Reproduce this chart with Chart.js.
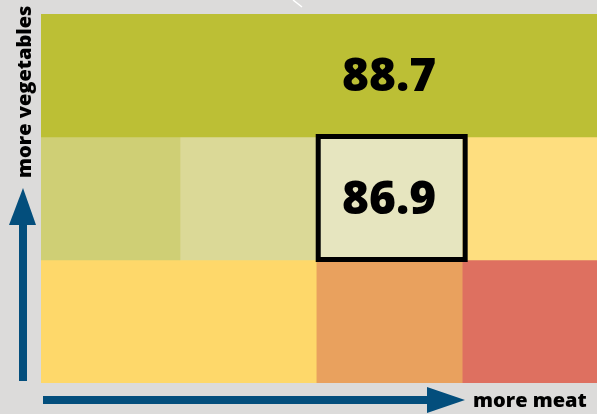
<!DOCTYPE html>
<html lang="en">
<head>
  <meta charset="UTF-8">
  <title>Vegetables vs meat</title>
  <script src="https://cdn.jsdelivr.net/npm/chart.js"></script>
  <style>
    body {
      margin: 0;
      background: #dcdbda;
    }
    .chart-container {
      position: relative;
      width: 597px;
      height: 414px;
    }
  </style>
</head>
<body>

<div class="chart-container">
  <canvas id="gridChart" width="597" height="414"></canvas>
</div>

<script>
  // Data
  const rowLabels = ['high', 'mid', 'low'];
  const cellRow = [0, 1, 1, 1, 1, 2, 2, 2];
  const cellStart = [0, 0, 1, 1.98, 3.03, 0, 1.98, 3.03];
  const cellEnd = [4, 1, 1.98, 3.03, 4, 1.98, 3.03, 4];
  const cellValue = [88.7, null, null, 86.9, null, null, null, null];
  const labelAt = [2.505, null, null, 2.505, null, null, null, null];
  const highlightCell = 3;

  // Colours
  const cellColors = ['#bcbf35', '#cfcf75', '#dbd997', '#e6e5bf', '#fede7f', '#fed86a', '#e9a15e', '#de7060'];
  const arrowColor = '#034e7c';

  const datasets = cellRow.map((row, i) => ({
    data: rowLabels.map((_, r) => r === row ? [cellStart[i], cellEnd[i]] : null),
    backgroundColor: cellColors[i],
    borderWidth: 0,
    grouped: false,
    barPercentage: 1,
    categoryPercentage: 1
  }));

  const overlay = {
    id: 'overlay',
    afterDatasetsDraw(chart) {
      const ctx = chart.ctx;
      const xs = chart.scales.x;
      ctx.save();

      // highlighted cell frame
      const hl = chart.getDatasetMeta(highlightCell).data[cellRow[highlightCell]];
      const p = hl.getProps(['x', 'y', 'base', 'height'], true);
      ctx.strokeStyle = '#000';
      ctx.lineWidth = 5;
      ctx.strokeRect(p.base + 2, p.y - p.height / 2 - 0.5, p.x - p.base + 1, p.height);

      // values
      ctx.fillStyle = '#000';
      ctx.font = '800 46px "Open Sans"';
      ctx.textAlign = 'center';
      ctx.textBaseline = 'middle';
      cellValue.forEach((v, i) => {
        if (v === null) return;
        const el = chart.getDatasetMeta(i).data[cellRow[i]];
        ctx.fillText(v.toFixed(1), xs.getPixelForValue(labelAt[i]), el.y + 2);
      });
      ctx.restore();
    },
    afterDraw(chart) {
      const ctx = chart.ctx;
      const a = chart.chartArea;
      ctx.save();
      ctx.fillStyle = arrowColor;

      // vertical arrow
      ctx.fillRect(19, a.top + 211, 8, a.bottom - a.top - 213);
      ctx.beginPath();
      ctx.moveTo(9, a.top + 211);
      ctx.lineTo(36, a.top + 211);
      ctx.lineTo(23, a.top + 174);
      ctx.closePath();
      ctx.fill();

      // horizontal arrow
      ctx.fillRect(a.left + 2, a.bottom + 13, 385, 8);
      ctx.beginPath();
      ctx.moveTo(a.left + 386, a.bottom + 4);
      ctx.lineTo(a.left + 386, a.bottom + 30);
      ctx.lineTo(a.left + 424, a.bottom + 17);
      ctx.closePath();
      ctx.fill();

      // axis captions
      ctx.fillStyle = '#000';
      ctx.font = '800 20px "Open Sans"';
      ctx.textBaseline = 'alphabetic';
      ctx.textAlign = 'left';
      ctx.fillText('more meat', a.left + 432, a.bottom + 24);
      ctx.translate(31, a.top + 164);
      ctx.rotate(-Math.PI / 2);
      ctx.fillText('more vegetables', 0, 0);
      ctx.restore();

      // small white stroke at the top edge
      ctx.save();
      ctx.strokeStyle = '#fff';
      ctx.lineWidth = 1.5;
      ctx.beginPath();
      ctx.moveTo(293, 0);
      ctx.lineTo(302, 7);
      ctx.stroke();
      ctx.restore();
    }
  };

  // Render Chart
  const ctx = document.getElementById('gridChart').getContext('2d');
  new Chart(ctx, {
    type: 'bar',
    data: {
      labels: rowLabels,
      datasets: datasets
    },
    options: {
      indexAxis: 'y',
      responsive: false,
      animation: false,
      layout: {
        padding: { left: 41, top: 14, right: 0, bottom: 31 }
      },
      scales: {
        x: { type: 'linear', min: 0, max: 4, display: false },
        y: { display: false }
      },
      plugins: {
        legend: { display: false },
        tooltip: { enabled: false }
      }
    },
    plugins: [overlay]
  });
</script>

</body>
</html>
